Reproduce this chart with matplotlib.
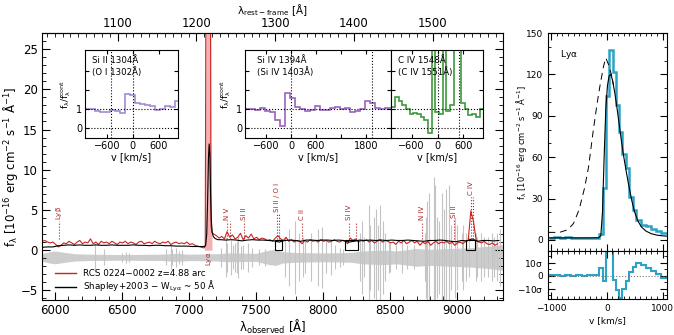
import numpy as np
import matplotlib
matplotlib.use('Agg')
import matplotlib.pyplot as plt
from matplotlib.ticker import MultipleLocator
from matplotlib.patches import Rectangle

plt.rcParams['font.family'] = ['DejaVu Sans']
plt.rcParams['mathtext.default'] = 'regular'

Z = 4.88
C_KMS = 299792.458

# ---------------- main spectrum data ----------------
red_blue_start, red_step = 5905, 20
red_blue_flux = [1.1, 1.2, 1.0, 0.9, 1.0, 0.7, 0.4, 0.6, 0.9, 0.8, 1.1, 0.9, 0.7, 1.0, 1.2, 0.8,
                 1.0, 0.9, 1.4, 0.8, 1.0, 0.7, 1.1, 0.9, 1.0, 0.8, 1.1, 0.9, 0.7, 1.0, 0.9, 1.1,
                 0.8, 1.0, 0.9, 0.7, 1.0, 1.1, 0.8, 0.9, 1.0, 0.8, 1.1, 0.9, 0.8, 1.0, 0.9, 1.1,
                 0.7, 0.9, 1.0, 0.8, 0.9, 0.8, 1.0, 0.7, 0.8, 0.6, 0.5, 0.4, 0.3]
red_lya_wave = [7115, 7122, 7128, 7160, 7165, 7172]
red_lya_flux = [0.3, 0.5, 40.0, 40.0, 3.0, 2.2]
red_red_start = 7185
red_red_flux = [2.0, 1.8, 1.5, 1.7, 1.4, 2.3, 1.6, 1.9, 1.4, 1.6, 2.1, 1.3, 1.8, 1.5, 2.0, 1.4,
                1.6, 1.3, 1.5, 1.4, 1.2, 1.3, 1.1, 1.5, 1.8, 1.4, 1.2, 1.6, 1.1, 1.3, 1.0, 1.2,
                1.1, 0.8, 1.2, 1.0, 1.3, 1.1, 1.2, 1.0, 1.3, 1.1, 1.2, 1.0, 1.1, 1.3, 1.1, 1.0,
                1.2, 1.1, 0.8, 1.5, 1.2, 1.4, 1.0, 1.2, 1.1, 1.3, 1.0, 1.2, 0.9, 1.1, 1.3, 1.0,
                1.2, 1.1, 0.9, 1.0, 0.7, 1.1, 0.9, 1.2, 0.8, 1.0, 1.2, 0.9, 1.1, 0.6, 1.0, 0.8,
                1.1, 0.6, 0.9, 1.1, 0.8, 1.0, 0.9, 1.1, 0.8, 1.0, 0.6, 0.9, 1.0, 0.8, 1.1, 1.2,
                4.9, 3.5, 1.2, 1.0, 0.9, 1.1, 0.8, 0.7, 0.9, 0.6, 0.8]

blk_blue_start, blk_step = 5905, 40
blk_blue_flux = [0.35, 0.4, 0.4, 0.55, 0.6, 0.65, 0.6, 0.65, 0.6, 0.6, 0.65, 0.6, 0.6, 0.65, 0.6, 0.6,
                 0.6, 0.65, 0.6, 0.6, 0.55, 0.6, 0.6, 0.55, 0.55, 0.5, 0.5, 0.5, 0.45, 0.45, 0.45]
blk_lya_wave = [7115, 7125, 7133, 7140, 7146, 7151, 7156, 7161, 7167, 7174, 7182, 7195, 7215]
blk_lya_flux = [0.45, 0.6, 2.0, 6.5, 11.5, 13.2, 12.0, 7.5, 3.8, 2.2, 1.7, 1.45, 1.3]
blk_red_start = 7235
blk_red_flux = [1.3, 1.25, 1.3, 1.25, 1.15, 1.25, 1.3, 1.25, 1.25, 1.2, 1.15, 1.0, 1.2, 1.25, 1.2, 1.1,
                1.25, 1.25, 1.2, 1.25, 1.25, 1.2, 1.25, 1.2, 1.0, 1.1, 1.25, 1.2, 1.25, 1.2, 1.25, 1.2,
                1.25, 1.2, 1.2, 1.25, 1.2, 1.15, 1.1, 1.2, 1.2, 1.25, 1.2, 1.1, 1.05, 1.2, 1.15, 1.4,
                1.1, 1.2, 1.2, 1.15, 1.2]

gray_offset = -0.9
gray_wave = [5905, 5960, 6000, 6080, 6150, 6250, 6500, 6800, 6900, 7000, 7200, 7300, 7500, 7600,
             7650, 7700, 7800, 8000, 8200, 8300, 8450, 8550, 8700, 8800, 8950, 9100, 9250, 9340]
gray_hw = [0.5, 0.7, 0.8, 0.6, 0.45, 0.4, 0.35, 0.4, 0.5, 0.4, 0.45, 0.55, 0.5, 0.9,
           1.0, 0.7, 0.6, 0.55, 0.6, 0.8, 0.9, 0.8, 1.1, 1.0, 1.1, 1.2, 1.4, 1.6]
sky_wave = [6300, 6364, 6498, 6533, 6553, 6830, 6863, 6871, 6900, 6923, 6949,
            7240, 7276, 7284, 7316, 7329, 7341, 7359, 7369, 7392, 7402, 7438, 7470,
            7524, 7571, 7714, 7750, 7794, 7821, 7853, 7869, 7914, 7964, 7993,
            8025, 8062, 8089, 8125, 8148, 8280, 8290, 8310, 8344, 8352, 8382, 8399, 8415, 8430, 8452, 8465,
            8493, 8505, 8548, 8590, 8630, 8680, 8761, 8768, 8778, 8791, 8827, 8836, 8849, 8867, 8886,
            8904, 8920, 8943, 8958, 8988, 9001, 9038, 9050, 9070, 9093,
            9140, 9153, 9180, 9200, 9230, 9262, 9280, 9300, 9320]
sky_amp = [1.8, 1.0, 0.6, 0.7, 0.6, 1.0, 1.5, 1.0, 1.2, 0.8, 0.9,
           1.2, 2.5, 1.8, 2.2, 1.5, 1.8, 2.0, 2.6, 1.4, 1.5, 1.8, 1.2,
           1.0, 1.1, 2.5, 3.5, 4.5, 3.0, 2.5, 2.0, 3.0, 3.5, 3.8,
           2.0, 2.2, 1.5, 1.2, 1.0, 3.0, 4.5, 2.5, 6.5, 4.0, 5.0, 6.0, 4.0, 6.5, 4.5, 3.0,
           2.0, 1.8, 1.5, 2.0, 1.5, 1.5, 3.0, 5.0, 7.0, 8.0, 10.0, 9.0, 5.0, 4.5, 8.0,
           6.0, 8.5, 9.0, 4.0, 5.0, 4.0, 3.0, 4.0, 3.0, 2.5,
           3.0, 2.5, 3.0, 2.5, 2.5, 3.0, 2.5, 3.0, 3.5]

line_names = ['Ly$\\beta$', 'N V', 'Si II', 'Si II / O I', 'C II', 'Si IV', 'N IV', 'Si II', 'C IV']
line_rest = [[1025.7], [1238.8, 1242.8], [1260.4], [1302.2, 1304.4], [1334.5],
             [1393.8, 1402.8], [1486.5], [1526.7], [1548.2, 1550.8]]
line_label_y = [3.8, 3.8, 3.8, 4.7, 3.7, 3.7, 3.7, 4.0, 6.8]
lya_rest = 1215.67

# ---------------- inset data ----------------
in1_start, in1_width = -1103, 115
in1_vals = [1.03, 1.0, 0.93, 0.88, 0.85, 0.95, 0.92, 0.83, 1.8, 1.75, 1.33, 1.3, 1.25, 1.15,
            0.95, 1.0, 1.15, 1.1, 1.45]
in2_start, in2_width = -1104, 120
in2_vals = [1.0, 1.0, 0.95, 1.05, 0.92, 0.85, 0.45, 0.15, 1.85, 1.6, 1.1, 1.0, 0.9, 0.95, 1.15,
            0.95, 0.97, 1.05, 1.1, 1.0, 1.05, 0.85, 0.9, 1.0, 1.45, 1.35, 1.05, 1.0, 1.05, 1.05]
in3_start, in3_width = -1070, 85
in3_vals = [1.1, 1.65, 1.45, 1.2, 1.0, 0.75, 0.8, 0.75, 0.6, 0.45, -0.25, 5.0, 0.85, 0.75, 5.0,
            0.9, 1.2, 5.0, 5.0, 1.35, 1.0, 0.7, 0.75, 0.6, 1.0]

# ---------------- Lya panel data ----------------
lya_edges = [-1050, -950, -850, -750, -650, -550, -450, -350, -250, -140, -78, -18, 42, 101, 161,
             220, 280, 340, 399, 460, 530, 620, 710, 800, 890, 980, 1080]
lya_obs = [1.5, 2.0, 1.5, 1.8, 1.5, 1.6, 1.4, 1.5, 1.5, 4.0, 38, 104, 138, 122, 98, 78, 62, 52,
           31, 22, 14.5, 11, 10, 8, 6.5, 5]
lya_resid = [0.5, 0.8, 0.0, 0.5, 0.0, 0.5, -0.5, 0.3, 0.5, 6.0, -4.0, 25, 25, -3, -11, -17.5, -10,
             -4, 3, 7, 9.5, 8.5, 6, 3.5, 1, -1.5]
model_v = [-1050, -400, -150, -110, -80, -50, -20, 10, 40, 70, 100, 140, 180, 220, 260, 300, 350,
           400, 450, 500, 560, 620, 700, 800, 900, 1000, 1080]
model_f = [1.5, 1.5, 1.6, 3, 20, 60, 95, 112, 119, 120, 116, 107, 96, 84, 72, 61, 49, 38, 28, 20,
           13.5, 9.5, 6.5, 4.5, 3.5, 3, 2.8]
intr_v = [-1050, -850, -700, -600, -500, -400, -330, -250, -180, -120, -60, -20, 30, 80, 120]
intr_f = [5.5, 5.5, 7.5, 12, 22, 38, 53, 78, 98, 113, 126, 132, 127, 120, 112]

RED = '#cc2222'
LBL = '#b22222'
CYAN = '#2ba3c4'

fig = plt.figure(figsize=(6.74, 3.35), dpi=100)

# ================= main axes =================
ax = fig.add_axes([0.0623, 0.1045, 0.684, 0.797])
gw = np.array(gray_wave)
ghw = np.array(gray_hw)
ax.fill_between(gw, gray_offset - ghw, gray_offset + ghw, color='#cdcdcd', lw=0)
sa = np.array(sky_amp)
ax.vlines(sky_wave, gray_offset - sa, gray_offset + sa, color='#c4c4c4', lw=0.8)

red_blue_wave = red_blue_start + red_step * np.arange(len(red_blue_flux))
red_red_wave = red_red_start + red_step * np.arange(len(red_red_flux))
red_wave = np.concatenate([red_blue_wave, red_lya_wave, red_red_wave])
red_flux = np.concatenate([red_blue_flux, red_lya_flux, red_red_flux])
ax.fill_between(red_lya_wave, 0, red_lya_flux, color='#f2b0b0', lw=0)
ax.plot(red_wave, red_flux, color=RED, lw=0.8)

blk_blue_wave = blk_blue_start + blk_step * np.arange(len(blk_blue_flux))
blk_red_wave = blk_red_start + blk_step * np.arange(len(blk_red_flux))
blk_wave = np.concatenate([blk_blue_wave, blk_lya_wave, blk_red_wave])
blk_flux = np.concatenate([blk_blue_flux, blk_lya_flux, blk_red_flux])
ax.plot(blk_wave, blk_flux, color='k', lw=0.8)

for name, rests, ly in zip(line_names, line_rest, line_label_y):
    obs = [r * (1 + Z) for r in rests]
    for o in obs:
        ax.plot([o, o], [1.4, ly - 0.2], ls=':', color=LBL, lw=0.8)
    ax.text(obs[0], ly, name, rotation=90, ha='center', va='bottom', fontsize=5, color=LBL)
ax.text(lya_rest * (1 + Z), -0.25, 'Ly$\\alpha$', rotation=90, ha='center', va='top',
        fontsize=5, color=LBL)

ax.plot([], [], color=RED, lw=1.0, label='RCS 0224\u22120002 z=4.88 arc')
ax.plot([], [], color='k', lw=1.0, label='Shapley+2003 \u2212 W$_{Ly\\alpha}$ ~ 50 \u00c5')
ax.legend(loc='lower left', bbox_to_anchor=(0.015, 0.0), frameon=False, fontsize=6.3,
          handlelength=2.4, labelspacing=0.1, handletextpad=0.8, borderpad=0.15)

ax.set_xlim(5903, 9345)
ax.set_ylim(-6.2, 27)
ax.xaxis.set_major_locator(MultipleLocator(500))
ax.xaxis.set_minor_locator(MultipleLocator(100))
ax.yaxis.set_major_locator(MultipleLocator(5))
ax.yaxis.set_minor_locator(MultipleLocator(1))
ax.tick_params(which='both', direction='in', top=False, right=True, labelsize=8.5, pad=3)
ax.tick_params(which='major', length=6)
ax.tick_params(which='minor', length=3)

secax = ax.secondary_xaxis('top', functions=(lambda x: x / (1 + Z), lambda x: x * (1 + Z)))
secax.xaxis.set_major_locator(MultipleLocator(100))
secax.xaxis.set_minor_locator(MultipleLocator(10))
secax.tick_params(which='both', direction='in', labelsize=8.5, pad=2)
secax.tick_params(which='major', length=6)
secax.tick_params(which='minor', length=3)

fig.text(0.404, 0.993, '$\\lambda_{rest-frame}$ [\u00c5]', ha='center', va='top', fontsize=7.5)
fig.text(0.404, 0.024, '$\\lambda_{observed}$ [\u00c5]', ha='center', va='center', fontsize=8.5)
fig.text(0.016, 0.503, 'f$_\\lambda$ [10$^{-16}$ erg cm$^{-2}$ s$^{-1}$ \u00c5$^{-1}$]',
         rotation=90, ha='center', va='center', fontsize=8.5)

# ================= insets =================
def inset(rect, start, width, vals, color, xlim, vlines, text, xt, xtl, ylab):
    a = fig.add_axes(rect)
    edges = start + width * np.arange(len(vals) + 1)
    a.stairs(vals, edges, color=color, lw=1.2, baseline=None)
    a.axhline(0, ls=':', color='k', lw=0.8)
    a.axhline(1, ls=':', color='k', lw=0.8)
    for v in vlines:
        a.axvline(v, ls=':', color='k', lw=0.8)
    a.set_xlim(*xlim)
    a.set_ylim(-0.5, 4.1)
    a.set_yticks([0, 1, 2, 3])
    a.set_yticklabels(['0', '1', '', ''] if ylab else ['', '', '', ''])
    a.set_xticks(xt)
    a.set_xticklabels(xtl)
    a.tick_params(direction='in', top=True, right=True, labelsize=7, length=3, pad=2)
    a.text(0.08, 0.93, text, transform=a.transAxes, ha='left', va='top', fontsize=6.2,
           linespacing=1.2)
    a.set_xlabel('v [km/s]', fontsize=7, labelpad=1)
    if ylab:
        a.set_ylabel('f$_\\lambda$/f$_\\lambda^{cont}$', fontsize=6.5, labelpad=2)
    return a

inset([0.1261, 0.588, 0.138, 0.2627], in1_start, in1_width, in1_vals, '#a48bd3',
      (-1103, 1040), [-506, 0], 'Si II 1304\u00c5\n(O I 1302\u00c5)',
      [-600, 0, 600], ['\u2212600', '0', '600'], True)
inset([0.3635, 0.588, 0.2166, 0.2627], in2_start, in2_width, in2_vals, '#9b63bd',
      (-1104, 2400), [0, 1938], 'Si IV 1394\u00c5\n(Si IV 1403\u00c5)',
      [-600, 0, 600, 1200, 1800], ['\u2212600', '0', '600', '', '1800'], True)
inset([0.5801, 0.588, 0.1365, 0.2627], in3_start, in3_width, in3_vals, '#3d9a3d',
      (-1074, 1050), [0, 498], 'C IV 1548\u00c5\n(C IV 1551\u00c5)',
      [-600, 0, 600], ['\u2212600', '0', '600'], False)

# boxes marking the inset regions
box_rest = [1304.37, 1393.76, 1548.20]
box_vlim = [(-1103, 1040), (-1104, 2400), (-1074, 1050)]
for r, (v0, v1) in zip(box_rest, box_vlim):
    l0 = r * (1 + Z) * (1 + v0 / C_KMS)
    l1 = r * (1 + Z) * (1 + v1 / C_KMS)
    ax.add_patch(Rectangle((l0, 0), l1 - l0, 1.2, fill=False, ec='k', lw=0.8, zorder=5))

# ================= Lya panel =================
axr = fig.add_axes([0.813, 0.2507, 0.1766, 0.6507])
axr.stairs(lya_obs, lya_edges, color=CYAN, lw=1.8, baseline=None)
axr.plot(model_v, model_f, color='k', lw=0.8)
axr.plot(intr_v, intr_f, color='k', lw=0.7, ls=(0, (7, 5)))
axr.set_xlim(-1060, 1080)
axr.set_ylim(-8, 150)
axr.yaxis.set_major_locator(MultipleLocator(30))
axr.yaxis.set_minor_locator(MultipleLocator(10))
axr.xaxis.set_major_locator(MultipleLocator(1000))
axr.xaxis.set_minor_locator(MultipleLocator(100))
axr.tick_params(which='both', direction='in', top=True, right=True, labelsize=6.5,
                labelbottom=False)
axr.tick_params(which='major', length=5)
axr.tick_params(which='minor', length=2.5)
axr.text(0.1, 0.93, 'Ly$\\alpha$', transform=axr.transAxes, fontsize=6.5, va='top')
fig.text(0.773, 0.576, 'f$_\\lambda$ [10$^{-16}$ erg cm$^{-2}$ s$^{-1}$ \u00c5$^{-1}$]',
         rotation=90, ha='center', va='center', fontsize=6)

axl = fig.add_axes([0.813, 0.1075, 0.1766, 0.1433])
axl.stairs(lya_resid, lya_edges, color=CYAN, lw=1.5, baseline=None)
axl.axhline(0, ls=':', color='#777777', lw=0.8)
axl.set_xlim(-1060, 1080)
axl.set_ylim(-18, 19)
axl.set_yticks([-10, 0, 10])
axl.set_yticklabels(['\u221210$\\sigma$', '0', '10$\\sigma$'])
axl.yaxis.set_minor_locator(MultipleLocator(5))
axl.xaxis.set_minor_locator(MultipleLocator(100))
axl.set_xticks([-1000, 0, 1000])
axl.set_xticklabels(['\u22121000', '0', '1000'])
axl.tick_params(which='both', direction='in', top=True, right=True, labelsize=6.5)
axl.tick_params(which='major', length=5)
axl.tick_params(which='minor', length=2.5)
axl.set_xlabel('v [km/s]', fontsize=6.5, labelpad=2)

fig.savefig('out.png', dpi=100)
